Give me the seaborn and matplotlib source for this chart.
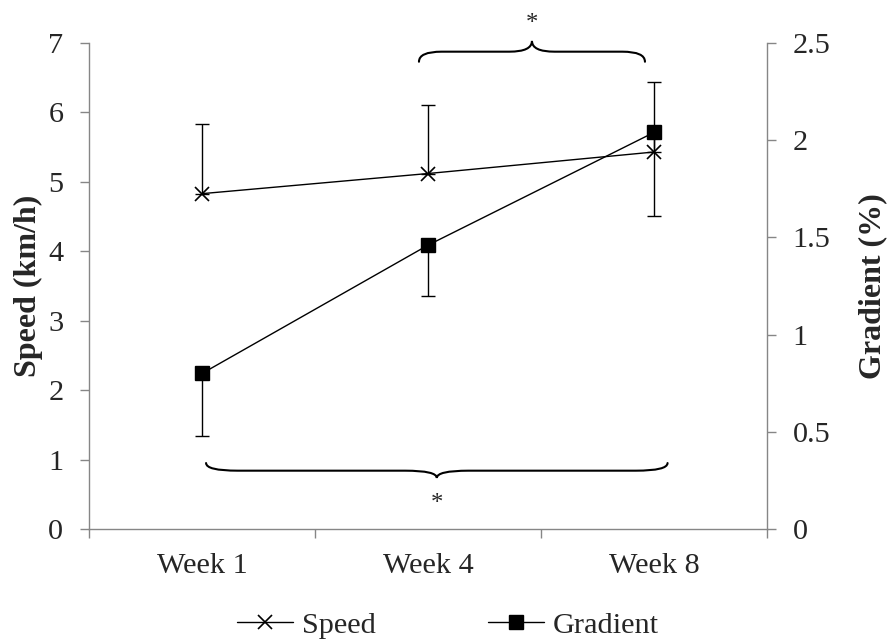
import numpy as np
import pandas as pd
import matplotlib
matplotlib.use("Agg")
import matplotlib.pyplot as plt
from matplotlib.path import Path
from matplotlib.patches import PathPatch
from matplotlib.lines import Line2D
import seaborn as sns

# ---- data ----
weeks = ["Week 1", "Week 4", "Week 8"]
speed = [4.83, 5.12, 5.43]
speed_err_up = [1.00, 0.99, 1.01]
gradient = [0.80, 1.46, 2.04]
gradient_err_down = [0.32, 0.26, 0.43]
speed_ticks = [0, 1, 2, 3, 4, 5, 6, 7]
gradient_ticks = [0, 0.5, 1, 1.5, 2, 2.5]
gradient_tick_labels = ["0", "0.5", "1", "1.5", "2", "2.5"]

sns.set_style("white")
plt.rcParams["font.family"] = ["Liberation Serif", "DejaVu Serif"]
FS = 21.8
TFS = 23
AX_COL = "#868686"

fig = plt.figure(figsize=(8.88, 6.44), dpi=100)
ax = fig.add_axes([89 / 888, 1 - 529 / 644, (767 - 89) / 888, (529 - 43) / 644])
ax2 = ax.twinx()

pos = np.arange(len(weeks))
df = pd.DataFrame({"pos": pos, "speed": speed, "gradient": gradient})

sns.lineplot(data=df, x="pos", y="speed", ax=ax, color="black", lw=1.0,
             marker="x", markersize=10, markeredgewidth=1.2,
             markeredgecolor="black", markerfacecolor="black", zorder=3)
ax.errorbar(pos, speed, yerr=[np.zeros(len(pos)), speed_err_up], fmt="none",
            ecolor="black", elinewidth=1.0, capsize=5, capthick=1.0, zorder=3)

sns.lineplot(data=df, x="pos", y="gradient", ax=ax2, color="black", lw=1.0,
             marker="s", markersize=9.5, markeredgewidth=1.0,
             markeredgecolor="black", markerfacecolor="black", zorder=3)
ax2.errorbar(pos, gradient, yerr=[gradient_err_down, np.zeros(len(pos))], fmt="none",
             ecolor="black", elinewidth=1.0, capsize=5, capthick=1.0, zorder=3)

ax.set_xlim(-0.5, len(weeks) - 0.5)
ax.set_ylim(0, 7)
ax2.set_ylim(0, 2.5)

ax.set_yticks(speed_ticks)
ax.set_yticklabels([str(t) for t in speed_ticks])
ax2.set_yticks(gradient_ticks)
ax2.set_yticklabels(gradient_tick_labels)

ax.set_xticks(pos)
ax.set_xticklabels(weeks)
ax.set_xticks(np.arange(len(weeks) + 1) - 0.5, minor=True)
ax.tick_params(axis="x", which="major", length=0, pad=17, labelsize=FS)
ax.tick_params(axis="x", which="minor", length=6.5, width=1.0, color=AX_COL, direction="out", bottom=True)
ax.tick_params(axis="y", which="major", length=6.5, width=1.0, color=AX_COL, direction="out",
               pad=12, labelsize=FS, left=True)
ax2.tick_params(axis="y", which="major", length=6.5, width=1.0, color=AX_COL, direction="out",
                pad=12, labelsize=FS, right=True)

for a in (ax, ax2):
    for s in a.spines.values():
        s.set_visible(False)
ax.spines["left"].set_visible(True)
ax.spines["bottom"].set_visible(True)
ax2.spines["right"].set_visible(True)
for s in (ax.spines["left"], ax.spines["bottom"], ax2.spines["right"]):
    s.set_color(AX_COL)
    s.set_linewidth(1.0)

ax.set_xlabel("")
ax.set_ylabel("Speed (km/h)", fontsize=TFS, fontweight="bold", labelpad=4)
ax2.set_ylabel("Gradient (%)", fontsize=TFS, fontweight="bold", rotation=90,
               ha="center", va="center")
ax2.yaxis.set_label_coords((873 - 89) / 678, 0.5)
ax.grid(False)
ax2.grid(False)


def brace(a, x0, x1, y_end, y_flat, y_tip, r):
    xm = (x0 + x1) / 2
    verts = [(x0, y_end), (x0, y_flat), (x0 + r, y_flat),
             (xm - r, y_flat),
             (xm, y_flat), (xm, y_tip),
             (xm, y_flat), (xm + r, y_flat),
             (x1 - r, y_flat),
             (x1, y_flat), (x1, y_end)]
    codes = [Path.MOVETO, Path.CURVE3, Path.CURVE3,
             Path.LINETO,
             Path.CURVE3, Path.CURVE3,
             Path.CURVE3, Path.CURVE3,
             Path.LINETO,
             Path.CURVE3, Path.CURVE3]
    p = PathPatch(Path(verts, codes), fill=False, lw=1.5, edgecolor="black",
                  clip_on=False, capstyle="round", zorder=4)
    a.add_patch(p)
    return xm


# top brace (Week 4 -> Week 8)
xm_top = brace(ax, 0.96, 1.96, 6.73, 6.875, 7.03, 0.10)
ax.text(xm_top, 7.27, "*", ha="center", va="center", fontsize=FS - 4, clip_on=False)
# bottom brace (Week 1 -> Week 8)
xm_bot = brace(ax, 0.018, 2.06, 0.95, 0.84, 0.735, 0.14)
ax.text(xm_bot, 0.36, "*", ha="center", va="center", fontsize=FS - 4)

handles = [
    Line2D([], [], color="black", lw=1.0, marker="x", markersize=10, markeredgewidth=1.2),
    Line2D([], [], color="black", lw=1.0, marker="s", markersize=9.5),
]
fig.legend(handles, ["Speed", "Gradient"], loc="center", bbox_to_anchor=(0.504, 1 - 625 / 644),
           ncol=2, frameon=False, fontsize=FS, handlelength=1.85, handletextpad=0.3,
           columnspacing=3.7)

fig.savefig("out.png", dpi=100)
